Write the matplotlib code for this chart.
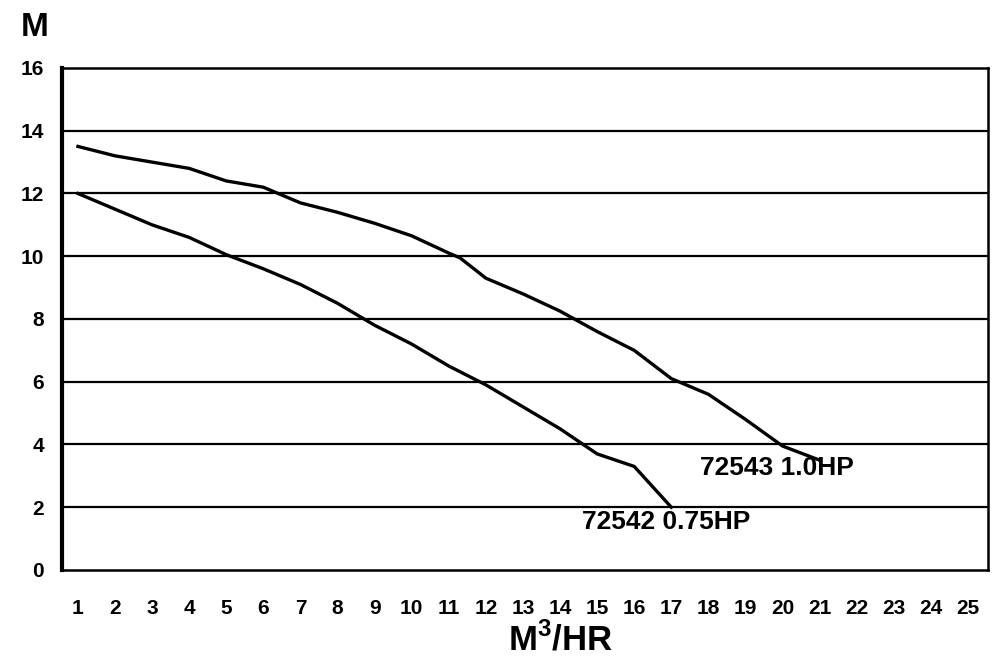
import numpy as np
import matplotlib.pyplot as plt

plt.rcParams['font.family'] = ['Liberation Sans', 'DejaVu Sans']
plt.rcParams['mathtext.fontset'] = 'custom'
plt.rcParams['mathtext.bf'] = 'Liberation Sans:bold'

# flow in M3/HR, head in M
flow_72543 = [1, 2, 3, 4, 5, 6, 7, 8, 9, 10, 11, 11.3, 12, 13, 14, 15, 16, 17, 18, 19, 20, 21]
head_72543 = [13.5, 13.2, 13.0, 12.8, 12.4, 12.2, 11.7, 11.4, 11.05, 10.65, 10.1, 9.95, 9.3, 8.8, 8.25, 7.6, 7.0, 6.1, 5.6, 4.8, 3.95, 3.5]

flow_72542 = [1, 2, 3, 4, 5, 6, 7, 8, 9, 10, 11, 12, 13, 14, 15, 16, 17]
head_72542 = [12.0, 11.5, 11.0, 10.6, 10.05, 9.6, 9.1, 8.5, 7.8, 7.2, 6.5, 5.9, 5.2, 4.5, 3.7, 3.3, 2.0]

labels = ["72543 1.0HP", "72542 0.75HP"]
x_ticks = list(range(1, 26))
y_ticks = list(range(0, 17, 2))

fig = plt.figure(figsize=(10, 6.64), dpi=100)
ax = fig.add_axes([0.062, 0.1416, 0.926, 0.756])

for y in y_ticks[1:-1]:
    ax.axhline(y, color="black", linewidth=1.6, zorder=1)

ax.plot(flow_72543, head_72543, color="black", linewidth=2.4, zorder=2)
ax.plot(flow_72542, head_72542, color="black", linewidth=2.4, zorder=2)

ax.text(17.77, 3.26, labels[0], fontsize=19, fontweight="bold", va="center", ha="left")
ax.text(14.59, 1.53, labels[1], fontsize=19, fontweight="bold", va="center", ha="left")

ax.set_xlim(0.57, 25.54)
ax.set_ylim(0, 16)
ax.set_xticks(x_ticks)
ax.set_yticks(y_ticks)
ax.tick_params(axis="x", length=0, pad=21, labelsize=15)
ax.tick_params(axis="y", length=0, pad=13, labelsize=15)
for lab in ax.get_xticklabels() + ax.get_yticklabels():
    lab.set_fontweight("bold")

for side in ["top", "right", "bottom"]:
    ax.spines[side].set_linewidth(1.8)
ax.spines["left"].set_linewidth(3)

fig.text(0.021, 0.958, "M", fontsize=24, fontweight="bold", va="center", ha="left")
fig.text(0.56, 0.036, r"M$^\mathbf{3}$/HR", fontsize=25, fontweight="bold", va="center", ha="center")

plt.savefig("out.png", dpi=100)
